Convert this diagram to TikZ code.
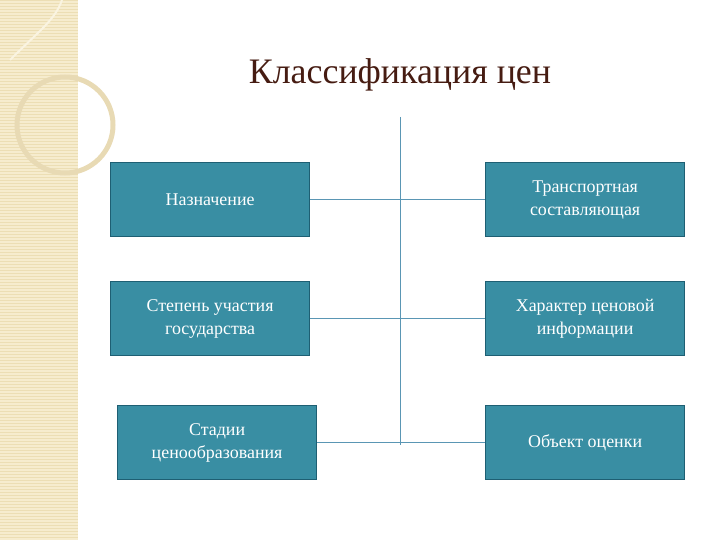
\documentclass[tikz,border=0pt]{standalone}
\usepackage{fontspec}
\setmainfont{Liberation Serif}
\definecolor{boxc}{RGB}{57,142,163}
\definecolor{boxd}{RGB}{30,95,115}
\definecolor{lnc}{RGB}{90,150,180}
\definecolor{bg}{RGB}{246,236,206}
\definecolor{bgl}{RGB}{236,222,180}
\definecolor{circ}{RGB}{232,218,180}
\definecolor{swoo}{RGB}{250,244,225}
\definecolor{ttl}{RGB}{70,28,18}
\begin{document}
\begin{tikzpicture}[x=1bp,y=-1bp,
  bx/.style={draw=boxd, line width=1.2bp, fill=boxc, minimum width=199bp, minimum height=74bp, anchor=north west, text=white, align=center, font=\fontsize{18}{23}\selectfont, inner sep=2bp},
  ln/.style={draw=lnc, line width=0.8bp}]
\useasboundingbox (0,0) rectangle (720,540);
\fill[bg] (0,0) rectangle (78,540);
\foreach \y in {0,3,...,540} \draw[bgl,line width=0.6bp] (0,\y) -- (78,\y);
\draw[circ,line width=5bp] (65,125) circle (48);
\draw[swoo,line width=2bp] (10,60) .. controls (40,30) and (55,20) .. (62,0);
\node[text=ttl, font=\fontsize{36}{40}\selectfont] (t) at (400,75) {Классификация цен};
\coordinate (top) at (400,117);
\coordinate (bot) at (400,445);
\node[bx] (a) at (110,162) {Назначение};
\node[bx] (b) at (110,281) {Степень участия\\государства};
\node[bx] (c) at (117,405) {Стадии\\ценообразования};
\node[bx] (d) at (485,162) {Транспортная\\составляющая};
\node[bx] (e) at (485,281) {Характер ценовой\\информации};
\node[bx] (f) at (485,405) {Объект оценки};
\draw[ln] (top) -- (bot);
\foreach \n in {a,b,c} \draw[ln] (\n.east) -- (top |- \n.east);
\foreach \n in {d,e,f} \draw[ln] (\n.west) -- (top |- \n.west);
\end{tikzpicture}
\end{document}
